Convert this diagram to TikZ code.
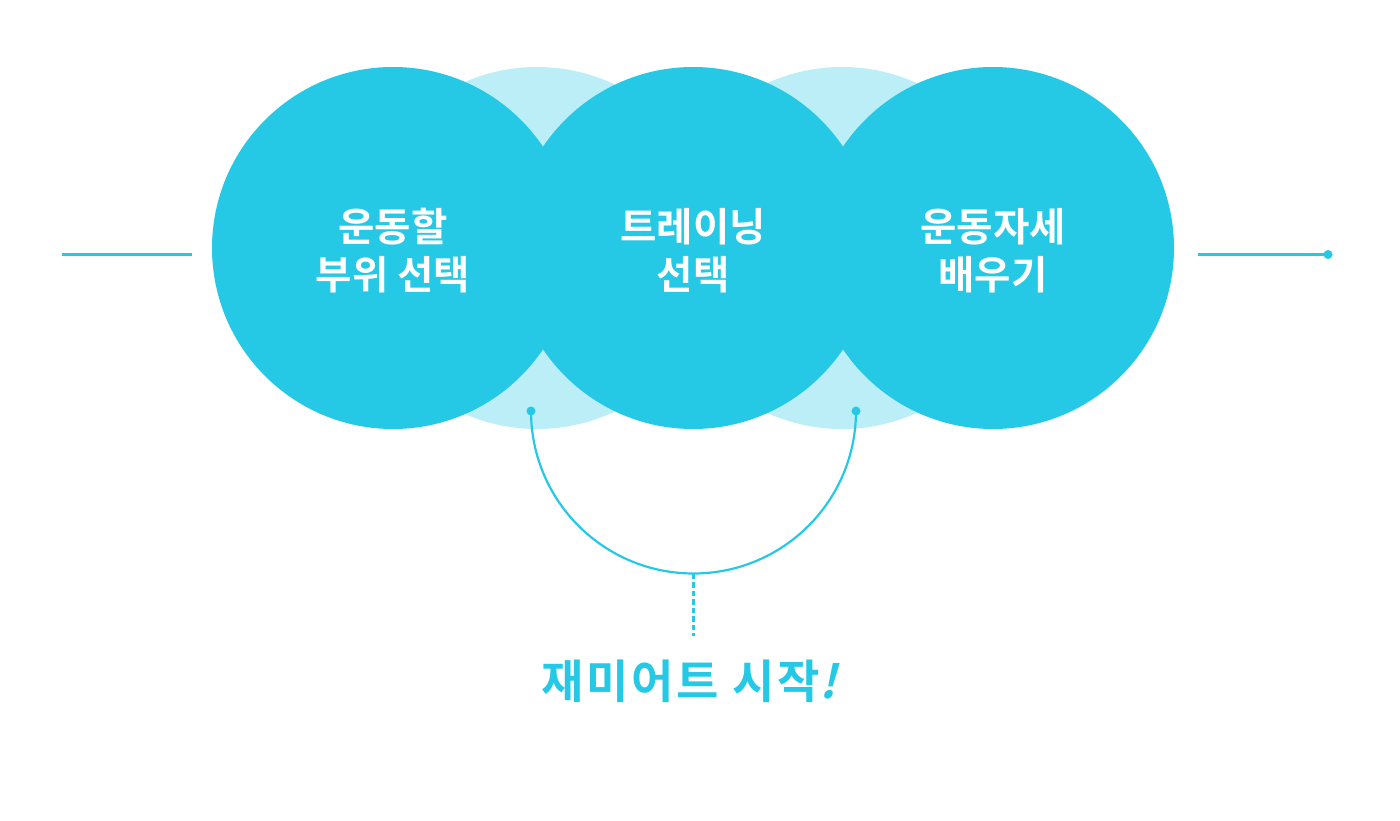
\documentclass[tikz,border=0pt]{standalone}
\usepackage{fontspec}
\newfontfamily\cjk{Noto Sans CJK KR Bold}
\newfontfamily\cjkwide{Noto Sans CJK KR Bold}[LetterSpace=6]
\newfontfamily\cjkslant{Noto Sans CJK KR Bold}[FakeSlant=0.25]
\definecolor{mint}{HTML}{25C9E5}
\definecolor{mintlight}{HTML}{BCEEF7}

\begin{document}
\begin{tikzpicture}[x=1pt,y=-1pt,
  disc/.style={circle, fill=mint, minimum size=362pt, inner sep=0pt},
  disctext/.style={text=white, align=center, yshift=-3pt, font=\cjk\fontsize{39.5}{48}\selectfont},
  backdisc/.style={fill=mintlight},
  link/.style={draw=mint, line width=2.2pt},
  goal/.style={text=mint, font=\cjkwide\fontsize{46}{50}\selectfont}]
\useasboundingbox (0,0) rectangle (1400,821);

% back circles
\foreach \x in {537,842}
    \fill[backdisc] (\x,248) circle[radius=181pt];

% front circles
\node[disc, label={[disctext]center:운동할\\부위 선택}] (part) at (393,248) {};
\node[disc, label={[disctext]center:트레이닝\\선택}] (train) at (693,248) {};
\node[disc, label={[disctext]center:운동자세\\배우기}] (pose) at (993,248) {};

% side lines
\coordinate (leadA) at (62,254.5);
\coordinate (leadB) at (192,254.5);
\coordinate (tailA) at (1198,254.5);
\coordinate (tailB) at (1328,254.5);
\draw[link] (leadA) -- (leadB);
\draw[link] (tailA) -- (tailB);
\fill[mint] (tailB) circle[radius=4.5pt];

% hook under the circles
\coordinate (hookL) at (531,411);
\coordinate (hookR) at (856,411);
\coordinate (hookBot) at (693.5,573.5);
\coordinate (dashEnd) at (693.5,636);
\draw[link] (hookL) arc[start angle=180, end angle=360, radius=162.5pt];
\foreach \p in {hookL,hookR}
    \fill[mint] (\p) circle[radius=4.5pt];
\draw[link, dash pattern=on 5.5pt off 3pt] (hookBot) -- (dashEnd);

\node[goal] (start) at (689,681) {재미어트 시작{\cjkslant !}};
\end{tikzpicture}
\end{document}
